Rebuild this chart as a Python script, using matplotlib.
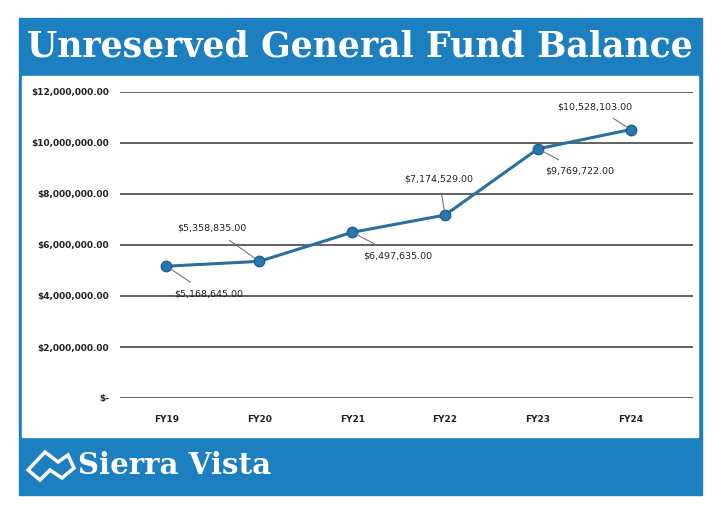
import matplotlib
matplotlib.use("Agg")
import matplotlib.pyplot as plt
from matplotlib.patches import Rectangle, Polygon
from matplotlib.ticker import FuncFormatter

categories = ["FY19", "FY20", "FY21", "FY22", "FY23", "FY24"]
values = [5168645, 5358835, 6497635, 7174529, 9769722, 10528103]
label_offsets = [(42, -28), (-47, 33), (46, -24), (-6, 36), (42, -22), (-36, 23)]

BLUE = "#1b7fc0"
fig = plt.figure(figsize=(7.2, 5.13), dpi=100)
fig.patch.set_facecolor("white")
W, H = 720, 513
def fx(x): return x / W
def fy(y): return 1 - y / H

fig.patches.append(Rectangle((fx(19), fy(495)), fx(702) - fx(19), fy(18) - fy(495),
                             transform=fig.transFigure, color=BLUE, zorder=0))
fig.patches.append(Rectangle((fx(22), fy(437)), fx(698) - fx(22), fy(76) - fy(437),
                             transform=fig.transFigure, color="white", zorder=0.5))
fig.text(fx(360), fy(47), "Unreserved General Fund Balance", ha="center", va="center",
         color="white", fontsize=25, fontweight="bold", family="DejaVu Serif")
fig.text(fx(78), fy(466), "Sierra Vista", ha="left", va="center",
         color="white", fontsize=21, fontweight="bold", family="DejaVu Serif")
logo = [(28, 470), (45, 452), (58, 462), (68, 455), (74, 468), (62, 478), (50, 470), (40, 480)]
fig.patches.append(Polygon([(fx(a), fy(b)) for a, b in logo], closed=True, transform=fig.transFigure,
                           facecolor="none", edgecolor="white", lw=2.5, zorder=1))

ax = fig.add_axes([fx(120), fy(398), fx(693) - fx(120), fy(92) - fy(398)])
ax.set_facecolor("none")
ax.set_zorder(2)
x = range(len(categories))
ax.plot(x, values, color="#2a6f9e", lw=2.2, marker="o", ms=7.5,
        markerfacecolor="#2a77b0", markeredgecolor="#1d5f8f", zorder=3)
ax.set_ylim(0, 12000000)
ax.set_xlim(-0.5, 5.67)
ax.set_yticks(range(0, 12000001, 2000000))
ax.yaxis.set_major_formatter(FuncFormatter(lambda v, p: "$-" if v == 0 else f"${v:,.2f}"))
ax.set_xticks(list(x))
ax.set_xticklabels(categories)
ax.grid(axis="y", color="#555555", lw=1.3)
ax.set_axisbelow(True)
for s in ax.spines.values():
    s.set_visible(False)
ax.tick_params(length=0, labelsize=6.5, colors="#222222", pad=8)
for lab in ax.get_xticklabels() + ax.get_yticklabels():
    lab.set_fontweight("bold")
ax.tick_params(axis="x", pad=12)

for i, (v, off) in enumerate(zip(values, label_offsets)):
    ax.annotate(f"${v:,.2f}", (i, v), xytext=off, textcoords="offset pixels",
                ha="center", va="center", fontsize=6.8, color="#222222",
                arrowprops=dict(arrowstyle="-", color="#777777", lw=0.8, shrinkA=6, shrinkB=4))

fig.savefig("out.png", dpi=100)
